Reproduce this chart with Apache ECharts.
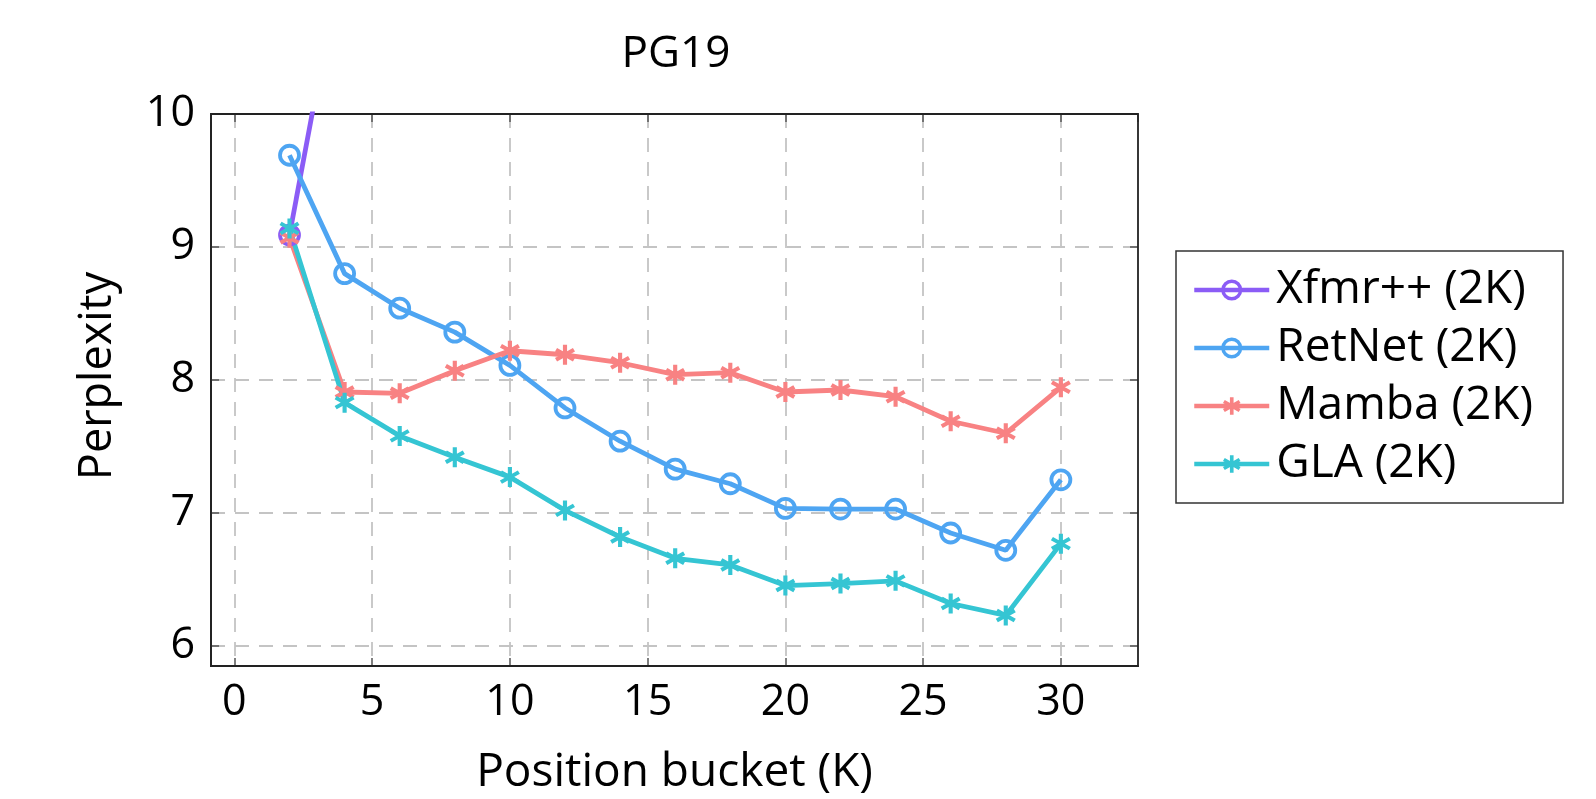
<!DOCTYPE html>
<html>
<head>
<meta charset="utf-8">
<script src="https://cdn.jsdelivr.net/npm/echarts@6/dist/echarts.min.js"></script>
<style>
  html, body { margin: 0; padding: 0; background: #fff; }
  #main { width: 1596px; height: 799px; }
</style>
</head>
<body>
<div id="main"></div>
<script>
const positions = [2, 4, 6, 8, 10, 12, 14, 16, 18, 20, 22, 24, 26, 28, 30];
const xfmrPositions = [2, 4];
const xfmr = [9.09, 11.31];
const retnet = [9.69, 8.8, 8.54, 8.36, 8.11, 7.79, 7.54, 7.33, 7.22, 7.035, 7.03, 7.03, 6.85, 6.72, 7.25];
const mamba = [9.07, 7.91, 7.9, 8.07, 8.22, 8.19, 8.13, 8.04, 8.055, 7.91, 7.925, 7.875, 7.69, 7.6, 7.945];
const gla = [9.14, 7.83, 7.58, 7.42, 7.27, 7.02, 6.82, 6.66, 6.61, 6.455, 6.47, 6.49, 6.32, 6.23, 6.77];

(() => {
  let myChart = echarts.init(document.querySelector("#main"));
  const font = "'Open Sans', 'DejaVu Sans', sans-serif";
  // three crossing bars, like the pgfplots asterisk mark
  const asterisk =
    "path://M8 0 L12 0 L12 20 L8 20 Z M17.66 3.27 L19.66 6.73 L2.34 16.73 L0.34 13.27 Z M19.66 13.27 L17.66 16.73 L0.34 6.73 L2.34 3.27 Z";
  const pair = (xs, ys) => xs.map((x, i) => [x, ys[i]]);
  const gridLine = {
    show: true,
    showMinLine: false,
    showMaxLine: false,
    lineStyle: { color: "#c4c4c4", type: [14, 10], width: 1.8 },
  };
  const tick = { show: true, inside: true, length: 8, lineStyle: { color: "#555", width: 1.5 } };

  const circleSeries = (name, data, color) => ({
    name: name,
    type: "line",
    data: data,
    color: color,
    symbol: "circle",
    symbolSize: 19,
    lineStyle: { width: 4.8, color: color },
    itemStyle: { color: "rgba(255,255,255,0)", borderColor: color, borderWidth: 3.8 },
  });
  const starSeries = (name, data, color) => ({
    name: name,
    type: "line",
    data: data,
    color: color,
    symbol: asterisk,
    symbolSize: 20,
    lineStyle: { width: 4.8, color: color },
    itemStyle: { color: color },
  });

  let option = {
    backgroundColor: "#fff",
    textStyle: { fontFamily: font, color: "#000" },
    title: {
      text: "PG19",
      left: 671,
      top: 27,
      textAlign: "center",
      textStyle: { fontFamily: font, fontSize: 44, fontWeight: "normal", color: "#000" },
    },
    legend: {
      orient: "vertical",
      left: 1176,
      top: 251,
      padding: [16, 30, 16, 16],
      itemWidth: 75,
      itemHeight: 22,
      itemGap: 12,
      borderColor: "#333",
      borderWidth: 1.5,
      borderRadius: 0,
      backgroundColor: "#fff",
      lineStyle: { width: 4.5 },
      itemStyle: { borderWidth: 3.5 },
      textStyle: { fontFamily: font, fontSize: 46, color: "#000", lineHeight: 46, padding: [0, 0, 0, 2] },
    },
    grid: {
      left: 211,
      right: 458,
      top: 114,
      bottom: 133,
      show: true,
      borderColor: "#222",
      borderWidth: 1.8,
      outerBoundsMode: "none",
      z: 3,
    },
    xAxis: [
      {
        type: "value",
        min: -0.85,
        max: 32.8,
        splitNumber: 6,
        name: "Position bucket (K)",
        nameLocation: "middle",
        nameGap: 84,
        nameTextStyle: { fontFamily: font, fontSize: 46, color: "#000" },
        axisLine: { show: true, onZero: false, lineStyle: { color: "#222", width: 1.8 } },
        axisTick: tick,
        axisLabel: {
          showMinLabel: false,
          showMaxLabel: false,
          margin: 15,
          fontFamily: font,
          fontSize: 43,
          color: "#000",
        },
        splitLine: gridLine,
      },
      {
        type: "value",
        position: "top",
        min: -0.85,
        max: 32.8,
        splitNumber: 6,
        axisLine: { show: false, onZero: false },
        axisTick: tick,
        axisLabel: { show: false },
        splitLine: { show: false },
      },
    ],
    yAxis: [
      {
        type: "value",
        min: 5.85,
        max: 10,
        splitNumber: 4,
        name: "Perplexity",
        nameLocation: "middle",
        nameGap: 90,
        nameTextStyle: { fontFamily: font, fontSize: 45, color: "#000", padding: [0, 0, 0, 28] },
        axisLine: { show: true, onZero: false, lineStyle: { color: "#222", width: 1.8 } },
        axisTick: tick,
        axisLabel: {
          showMinLabel: false,
          margin: 16,
          fontFamily: font,
          fontSize: 43,
          color: "#000",
        },
        splitLine: gridLine,
      },
      {
        type: "value",
        position: "right",
        min: 5.85,
        max: 10,
        splitNumber: 4,
        axisLine: { show: false, onZero: false },
        axisTick: tick,
        axisLabel: { show: false },
        splitLine: { show: false },
      },
    ],
    series: [
      circleSeries("Xfmr++ (2K)", pair(xfmrPositions, xfmr), "#8b5cf6"),
      circleSeries("RetNet (2K)", pair(positions, retnet), "#4ea5f2"),
      starSeries("Mamba (2K)", pair(positions, mamba), "#f88283"),
      starSeries("GLA (2K)", pair(positions, gla), "#35c5d3"),
    ],
  };
  myChart.setOption(option);
  window.addEventListener("resize", () => {
    myChart.resize();
  });
})();
</script>
</body>
</html>
